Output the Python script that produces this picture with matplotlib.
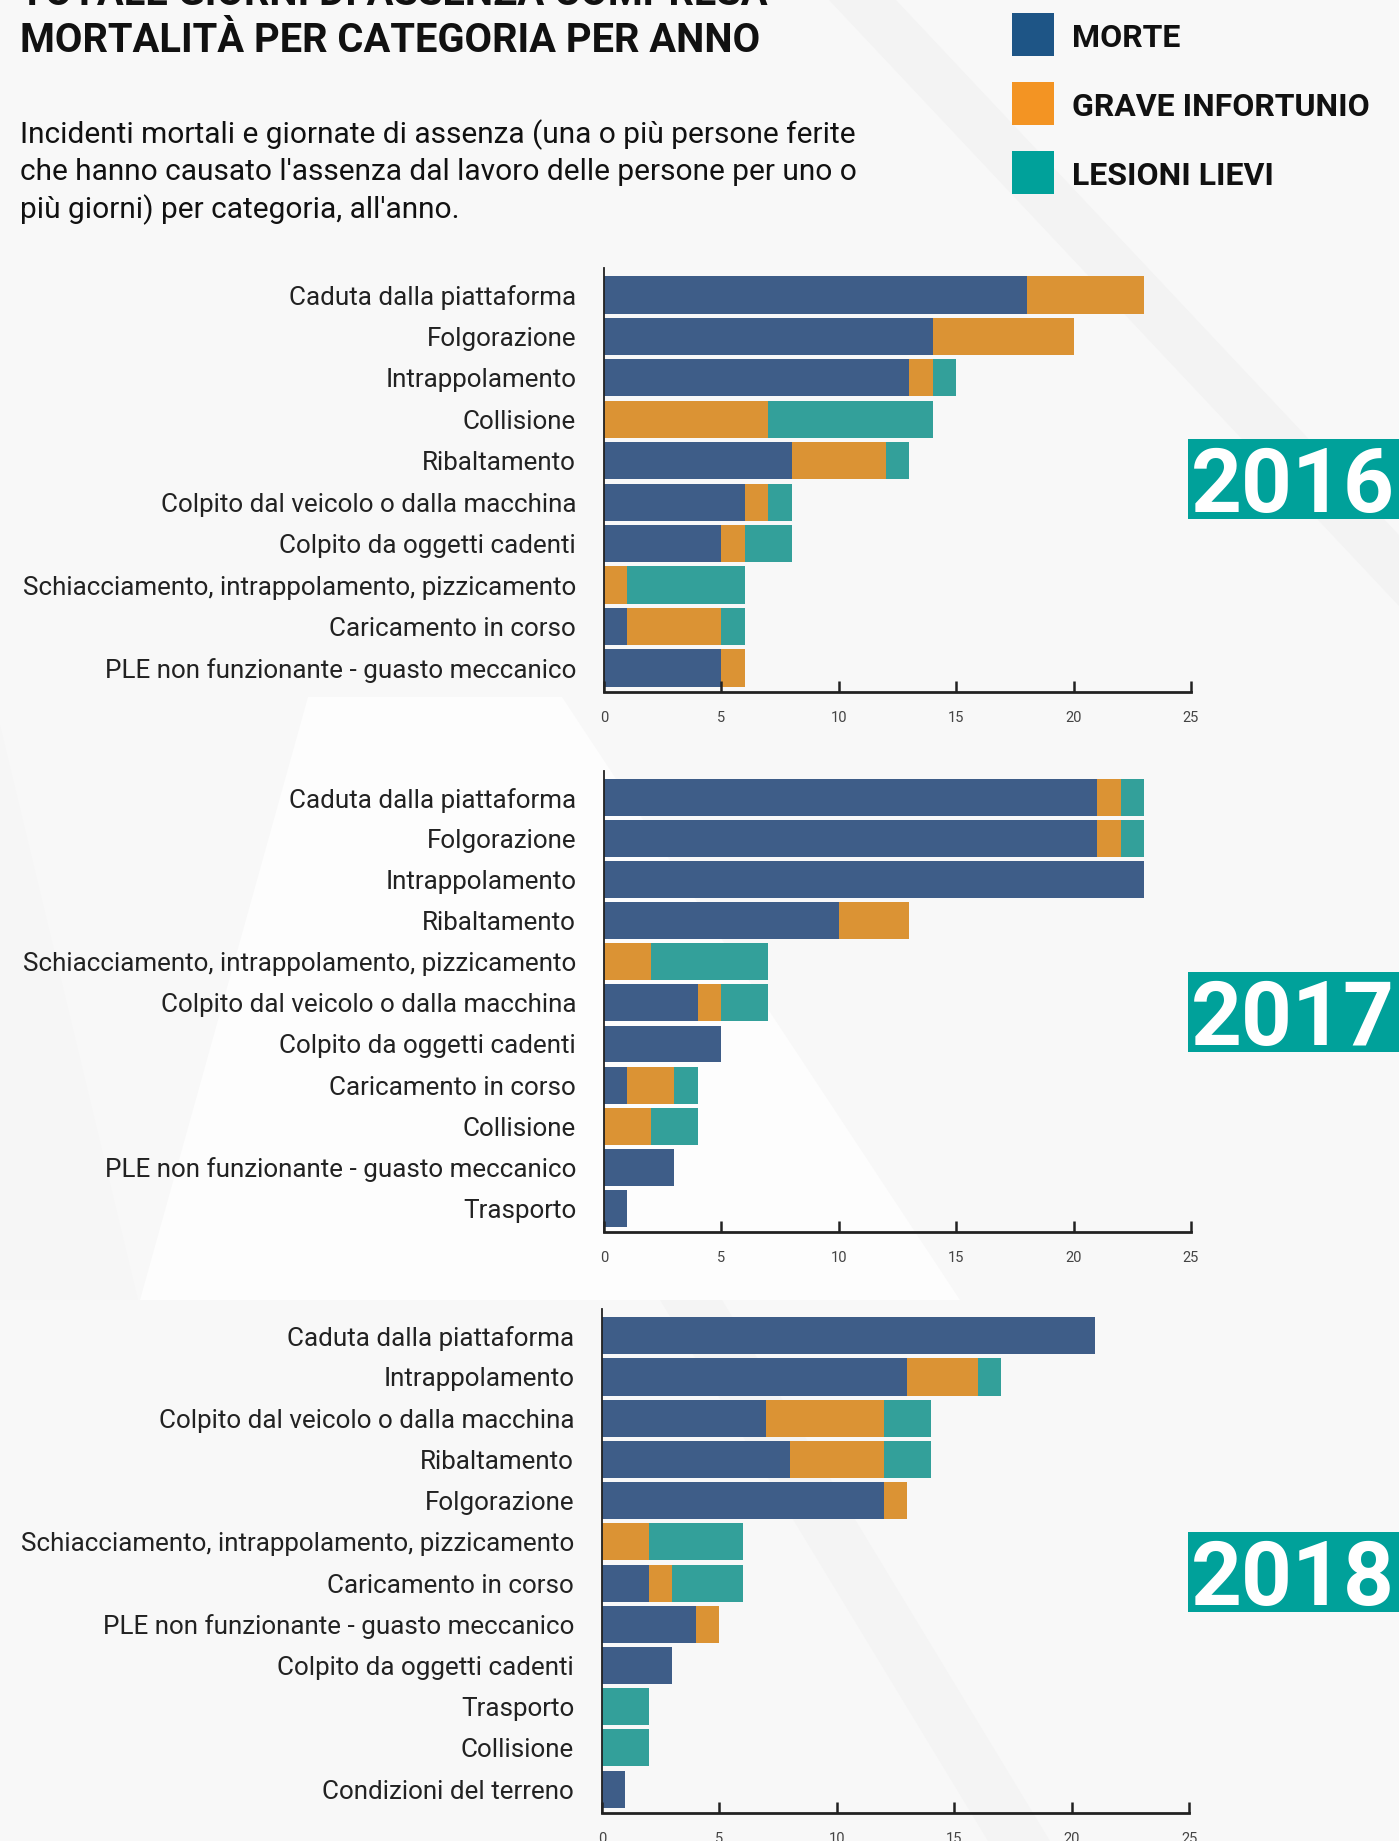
import matplotlib.pyplot as plt
from matplotlib.patches import Rectangle, Polygon

W, H = 1399, 1841

# ---- data ----
series = ['MORTE', 'GRAVE INFORTUNIO', 'LESIONI LIEVI']
years = ['2016', '2017', '2018']

cat_2016 = ['Caduta dalla piattaforma', 'Folgorazione', 'Intrappolamento', 'Collisione',
            'Ribaltamento', 'Colpito dal veicolo o dalla macchina', 'Colpito da oggetti cadenti',
            'Schiacciamento, intrappolamento, pizzicamento', 'Caricamento in corso',
            'PLE non funzionante - guasto meccanico']
morte_2016 = [18, 14, 13, 0, 8, 6, 5, 0, 1, 5]
grave_2016 = [5, 6, 1, 7, 4, 1, 1, 1, 4, 1]
lievi_2016 = [0, 0, 1, 7, 1, 1, 2, 5, 1, 0]

cat_2017 = ['Caduta dalla piattaforma', 'Folgorazione', 'Intrappolamento', 'Ribaltamento',
            'Schiacciamento, intrappolamento, pizzicamento', 'Colpito dal veicolo o dalla macchina',
            'Colpito da oggetti cadenti', 'Caricamento in corso', 'Collisione',
            'PLE non funzionante - guasto meccanico', 'Trasporto']
morte_2017 = [21, 21, 23, 10, 0, 4, 5, 1, 0, 3, 1]
grave_2017 = [1, 1, 0, 3, 2, 1, 0, 2, 2, 0, 0]
lievi_2017 = [1, 1, 0, 0, 5, 2, 0, 1, 2, 0, 0]

cat_2018 = ['Caduta dalla piattaforma', 'Intrappolamento', 'Colpito dal veicolo o dalla macchina',
            'Ribaltamento', 'Folgorazione', 'Schiacciamento, intrappolamento, pizzicamento',
            'Caricamento in corso', 'PLE non funzionante - guasto meccanico',
            'Colpito da oggetti cadenti', 'Trasporto', 'Collisione', 'Condizioni del terreno']
morte_2018 = [21, 13, 7, 8, 12, 0, 2, 4, 3, 0, 0, 1]
grave_2018 = [0, 3, 5, 4, 1, 2, 1, 1, 0, 0, 0, 0]
lievi_2018 = [0, 1, 2, 2, 0, 4, 3, 0, 0, 2, 2, 0]

x_ticks = [0, 5, 10, 15, 20, 25]

title_lines = ['TOTALE GIORNI DI ASSENZA COMPRESA', 'MORTALITÀ PER CATEGORIA PER ANNO']
subtitle_lines = ['Incidenti mortali e giornate di assenza (una o più persone ferite',
                  "che hanno causato l'assenza dal lavoro delle persone per uno o",
                  "più giorni) per categoria, all'anno."]

BAR_COLORS = ['#3e5d88', '#db9334', '#33a09a']
LEG_COLORS = ['#1e5586', '#f39423', '#00a19a']
BADGE = '#00a19a'
BG = '#f8f8f8'

plt.rcParams['font.family'] = ['Roboto', 'DejaVu Sans']

fig = plt.figure(figsize=(W / 100, H / 100), dpi=100, facecolor=BG)


def px(x, y):
    return x / W, 1 - y / H


# faint background shapes
def bg_shape(points, color):
    fig.patches.append(Polygon([px(*p) for p in points], closed=True,
                               transform=fig.transFigure, facecolor=color,
                               edgecolor='none', zorder=-5))


bg_shape([(308, 697), (562, 697), (960, 1300), (140, 1300)], '#fdfdfd')
bg_shape([(829, 0), (896, 0), (1399, 535), (1399, 606)], '#f3f3f3')
bg_shape([(660, 1300), (722, 1300), (1050, 1841), (988, 1841)], '#f4f4f4')
bg_shape([(0, 725), (138, 1300), (0, 1300)], '#f6f6f6')

# title and subtitle
fig.text(*px(20, 5), title_lines[0], fontsize=28.7, fontweight='bold', color='#111', va='baseline')
fig.text(*px(20, 52), title_lines[1], fontsize=28.7, fontweight='bold', color='#111', va='baseline')
for i, line in enumerate(subtitle_lines):
    fig.text(*px(20, 143 + i * 37.5), line, fontsize=21.5, color='#111', va='baseline')

# legend
for i, name in enumerate(series):
    top = 13 + i * 69
    fig.patches.append(Rectangle(px(1012, top + 43), 42 / W, 43 / H, transform=fig.transFigure,
                                 facecolor=LEG_COLORS[i], edgecolor='none'))
    fig.text(*px(1072, top + 34), name, fontsize=23, fontweight='bold', color='#111', va='baseline')


def draw_year(box, cats, morte, grave, lievi, year, badge_top):
    left, top, right, bottom = box
    ax = fig.add_axes([left / W, 1 - bottom / H, (right - left) / W, (bottom - top) / H])
    ax.set_facecolor('none')
    y = list(range(len(cats)))
    ax.barh(y, morte, height=0.9, color=BAR_COLORS[0])
    ax.barh(y, grave, left=morte, height=0.9, color=BAR_COLORS[1])
    start = [m + g for m, g in zip(morte, grave)]
    ax.barh(y, lievi, left=start, height=0.9, color=BAR_COLORS[2])
    ax.set_xlim(0, 25)
    ax.set_ylim(len(cats) - 0.5 + 0.08, -0.5 - 0.15)
    ax.set_yticks(y)
    ax.set_yticklabels(cats, fontsize=18.7, color='#222')
    ax.tick_params(axis='y', length=0, pad=20)
    ax.set_xticks(x_ticks)
    ax.tick_params(axis='x', direction='in', length=8, width=1.8, color='#222',
                   labelsize=10.5, labelcolor='#444', pad=14)
    for s in ['top', 'right']:
        ax.spines[s].set_visible(False)
    ax.spines['bottom'].set_linewidth(2)
    ax.spines['bottom'].set_color('#222')
    ax.spines['left'].set_linewidth(1.3)
    ax.spines['left'].set_color('#222')

    # year badge
    fig.patches.append(Rectangle(px(1188, badge_top + 80), 211 / W, 80 / H, transform=fig.transFigure,
                                 facecolor=BADGE, edgecolor='none'))
    fig.text(*px(1293, badge_top + 73), year, fontsize=64, fontweight='bold', color='white',
             ha='center', va='baseline')


draw_year((604, 268, 1191, 692), cat_2016, morte_2016, grave_2016, lievi_2016, years[0], 439)
draw_year((604, 771, 1191, 1232), cat_2017, morte_2017, grave_2017, lievi_2017, years[1], 972)
draw_year((602, 1309, 1189, 1813), cat_2018, morte_2018, grave_2018, lievi_2018, years[2], 1532)

fig.savefig('out.png', dpi=100, facecolor=BG)
